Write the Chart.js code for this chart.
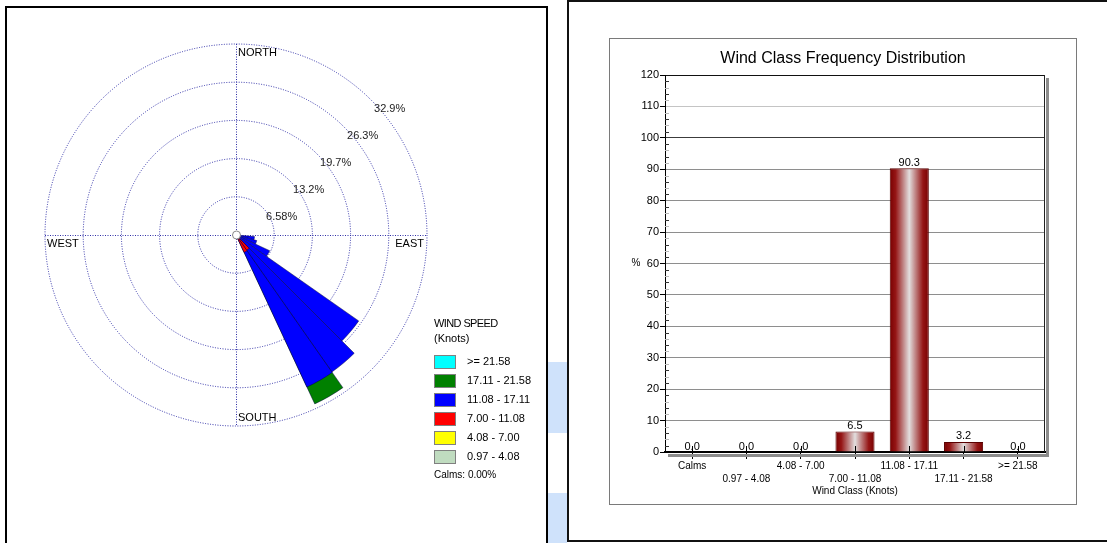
<!DOCTYPE html>
<html>
<head>
<meta charset="utf-8">
<title>Wind Rose and Wind Class Frequency Distribution</title>
<script src="https://cdn.jsdelivr.net/npm/chart.js@4/dist/chart.umd.min.js"></script>
<style>
  html, body { margin: 0; padding: 0; background: #fff; }
  body { width: 1107px; height: 543px; position: relative; overflow: hidden;
         font-family: Arial, "Liberation Sans", sans-serif; color: #000; }
  #leftPanel { position: absolute; left: 5px; top: 6px; width: 539px; height: 600px; border: 2px solid #000; }
  #roseBox { position: absolute; left: 7px; top: 8px; width: 539px; height: 535px; }
  .strip { position: absolute; left: 548px; width: 19px; background: #cfe2fb; }
  #rightPanel { position: absolute; left: 567px; top: 0; width: 600px; height: 538px;
                border: 2px solid #111; border-right: none; }
  #barFrame { position: absolute; left: 609px; top: 38px; width: 466px; height: 465px; border: 1px solid #7a7a7a; }
  #barBox { position: absolute; left: 610px; top: 39px; width: 466px; height: 465px; }
  #legend { position: absolute; left: 434px; top: 316px; font-size: 11px; }
  #legend .head { position: absolute; left: 0; white-space: nowrap; line-height: 14px; }
  #legend .sw { position: absolute; left: 0; width: 20px; height: 12px; border: 1px solid #808080; }
  #legend .lb { position: absolute; left: 33px; white-space: nowrap; line-height: 14px; }
  #legend .calms { position: absolute; left: 0; font-size: 10px; white-space: nowrap; line-height: 14px; }
</style>
</head>
<body>
<div id="leftPanel"></div>
<div id="roseBox"><canvas id="rose"></canvas></div>
<div id="legend"></div>
<div class="strip" style="top:362px;height:71px"></div>
<div class="strip" style="top:493px;height:50px"></div>
<div id="rightPanel"></div>
<div id="barFrame"></div>
<div id="barBox"><canvas id="bars"></canvas></div>

<script>
// ---- Wind rose data: 36 sectors of 10 degrees (sector centre bearings) ----
const directions = [0, 10, 20, 30, 40, 50, 60, 70, 80, 90, 100, 110, 120, 130, 140, 150, 160, 170,
                    180, 190, 200, 210, 220, 230, 240, 250, 260, 270, 280, 290, 300, 310, 320, 330, 340, 350];

// Speed classes (knots), lowest first
const speedClasses = ['0.97 - 4.08', '4.08 - 7.00', '7.00 - 11.08', '11.08 - 17.11', '17.11 - 21.58', '>= 21.58'];
const classColors = ['#c0dcc0', '#ffff00', '#ff0000', '#0000ff', '#008000', '#00ffff'];

// Frequency (%) per sector for each speed class
const freq_0_97_4_08 = [0,0,0,0,0,0,0,0,0,0, 0,0,0,0,0,0, 0,0,0,0,0,0,0,0,0,0,0,0,0,0,0,0,0,0,0,0];
const freq_4_08_7_00 = [0,0,0,0,0,0,0,0,0,0, 0,0,0,0,0,0, 0,0,0,0,0,0,0,0,0,0,0,0,0,0,0,0,0,0,0,0];
const freq_7_00_11_08 = [0,0,0,0,0,0,0,0,0,0, 0,0,0,0,3.2,3.3, 0,0,0,0,0,0,0,0,0,0,0,0,0,0,0,0,0,0,0,0];
const freq_11_08_17_11 = [0,0,0,0,0,0,0,0,0,0, 3.2,3.7,6.4,25.8,25.6,25.6, 0,0,0,0,0,0,0,0,0,0,0,0,0,0,0,0,0,0,0,0];
const freq_17_11_21_58 = [0,0,0,0,0,0,0,0,0,0, 0,0,0,0,0,3.2, 0,0,0,0,0,0,0,0,0,0,0,0,0,0,0,0,0,0,0,0];
const freq_21_58_up = [0,0,0,0,0,0,0,0,0,0, 0,0,0,0,0,0, 0,0,0,0,0,0,0,0,0,0,0,0,0,0,0,0,0,0,0,0];
const classFreq = [freq_0_97_4_08, freq_4_08_7_00, freq_7_00_11_08, freq_11_08_17_11, freq_17_11_21_58, freq_21_58_up];

// Rose rings and their labels
const ringValues = [6.58, 13.16, 19.74, 26.32, 32.9];
const ringLabels = ['6.58%', '13.2%', '19.7%', '26.3%', '32.9%'];
const compassLabels = ['NORTH', 'EAST', 'SOUTH', 'WEST'];
const calmsPercent = 0.00;

// ---- Wind class frequency distribution ----
const barClasses = ['Calms', '0.97 - 4.08', '4.08 - 7.00', '7.00 - 11.08', '11.08 - 17.11', '17.11 - 21.58', '>= 21.58'];
const barValues = [0.0, 0.0, 0.0, 6.5, 90.3, 3.2, 0.0];
const yTickStep = 10;
const yMax = 120;

const FONT = 'Arial, "Liberation Sans", sans-serif';
const GRID_BLUE = '#2e2ea6';

// ---------------- Legend for the rose (highest class on top) ----------------
(function buildLegend() {
  const lg = document.getElementById('legend');
  let html = '<div class="head" style="top:0;letter-spacing:-0.6px">WIND SPEED</div>' +
             '<div class="head" style="top:15px">(Knots)</div>';
  const order = speedClasses.map((_, i) => i).reverse();
  order.forEach((k, row) => {
    const top = 39 + row * 19;
    html += '<div class="sw" style="top:' + top + 'px;background:' + classColors[k] + '"></div>';
    html += '<div class="lb" style="top:' + (top - 1) + 'px">' + speedClasses[k].replace('>=', '&gt;=') + '</div>';
  });
  html += '<div class="calms" style="top:' + (39 + 6 * 19 - 1) + 'px">Calms: ' + calmsPercent.toFixed(2) + '%</div>';
  lg.innerHTML = html;
})();

// ---------------- Wind rose (stacked polar area) ----------------
// Each dataset holds the running total up to its class so the petals stack outward.
const cumulative = classFreq.map((_, k) =>
  directions.map((_, i) => {
    let s = 0;
    for (let j = 0; j <= k; j++) s += classFreq[j][i];
    return Math.round(s * 100) / 100;
  }));

const roseDecor = {
  id: 'roseDecor',
  beforeDatasetsDraw(chart) {
    const r = chart.scales.r, ctx = chart.ctx;
    const cx = r.xCenter, cy = r.yCenter, R = r.drawingArea;
    ctx.save();
    ctx.strokeStyle = GRID_BLUE;
    ctx.lineWidth = 1;
    ctx.setLineDash([1, 1.5]);
    ctx.beginPath();
    ctx.moveTo(cx - R, cy + 0.5); ctx.lineTo(cx + R, cy + 0.5);
    ctx.moveTo(cx + 0.5, cy - R); ctx.lineTo(cx + 0.5, cy + R);
    ctx.stroke();
    ctx.restore();
  },
  afterDatasetsDraw(chart) {
    const r = chart.scales.r, ctx = chart.ctx;
    const cx = r.xCenter, cy = r.yCenter, R = r.drawingArea;
    ctx.save();
    // calms circle
    ctx.beginPath();
    ctx.arc(cx + 0.5, cy, 4, 0, Math.PI * 2);
    ctx.fillStyle = '#fff';
    ctx.fill();
    ctx.strokeStyle = '#8a8a8a';
    ctx.lineWidth = 1;
    ctx.stroke();

    // compass labels
    ctx.fillStyle = '#000';
    ctx.font = '11px ' + FONT;
    ctx.textBaseline = 'middle';
    ctx.textAlign = 'left';
    ctx.fillText(compassLabels[0], cx + 2, cy - R + 9);
    ctx.fillText(compassLabels[2], cx + 2, cy + R - 8);
    ctx.fillText(compassLabels[3], cx - R + 2, cy + 9);
    ctx.textAlign = 'right';
    ctx.fillText(compassLabels[1], cx + R - 3, cy + 9);

    // ring labels along the north-east diagonal
    ctx.textAlign = 'left';
    ctx.fillStyle = '#222';
    ringValues.forEach((v, i) => {
      const d = r.getDistanceFromCenterForValue(v) * Math.SQRT1_2;
      ctx.fillText(ringLabels[i], cx + d + 3, cy - d + 9);
    });
    ctx.restore();
  }
};

new Chart(document.getElementById('rose'), {
  type: 'polarArea',
  data: {
    labels: directions.map(d => d + '°'),
    datasets: speedClasses.map((name, k) => ({
      label: name,
      data: cumulative[k],
      backgroundColor: c => (classFreq[k][c.dataIndex] > 0 ? classColors[k] : 'rgba(0,0,0,0)'),
      borderColor: 'rgba(0,0,60,0.8)',
      borderWidth: c => (classFreq[k][c.dataIndex] > 0 ? 0.6 : 0)
    }))
  },
  options: {
    responsive: true,
    maintainAspectRatio: false,
    animation: false,
    layout: { padding: { left: 38, top: 36, right: 119, bottom: 117 } },
    plugins: { legend: { display: false }, tooltip: { enabled: false }, title: { display: false } },
    scales: {
      r: {
        min: 0,
        max: ringValues[ringValues.length - 1],
        startAngle: -5,
        afterBuildTicks: s => { s.ticks = [0].concat(ringValues).map(v => ({ value: v })); },
        ticks: { display: false },
        grid: { circular: true, color: GRID_BLUE, lineWidth: 1 },
        border: { dash: [1, 1.5] },
        angleLines: { display: false },
        pointLabels: { display: false }
      }
    }
  },
  plugins: [roseDecor]
});

// ---------------- Wind class frequency bars ----------------
const barPct = 0.72;

const barDecor = {
  id: 'barDecor',
  beforeDatasetsDraw(chart) {
    const { ctx, chartArea: a, scales: { y } } = chart;
    ctx.save();
    // minor ticks inside the plot along the value axis
    for (let v = 2; v < yMax; v += 2) {
      if (v % yTickStep === 0) continue;
      const py = Math.round(y.getPixelForValue(v)) + 0.5;
      ctx.strokeStyle = (v / 2) % 2 ? '#333' : '#bbb';
      ctx.beginPath();
      ctx.moveTo(a.left, py); ctx.lineTo(a.left + 4, py);
      ctx.stroke();
    }
    // drop shadow right and below the plot
    ctx.fillStyle = '#8c8c8c';
    ctx.fillRect(a.right + 1, a.top + 3, 3, a.bottom - a.top + 2);
    ctx.fillRect(a.left + 3, a.bottom + 2, a.right - a.left + 1, 3);
    // right edge of the plot frame
    ctx.fillStyle = '#222';
    ctx.fillRect(a.right - 1, a.top, 1, a.bottom - a.top);
    ctx.restore();
  },
  afterDatasetsDraw(chart) {
    const { ctx, chartArea: a, scales: { x } } = chart;
    const meta = chart.getDatasetMeta(0);
    ctx.save();
    ctx.fillStyle = '#000';
    ctx.font = '11px ' + FONT;
    ctx.textAlign = 'center';
    ctx.textBaseline = 'middle';
    meta.data.forEach((bar, i) => {
      ctx.fillText(barValues[i].toFixed(1), bar.x, bar.y - 5.5);
    });
    // category tick marks rising above the axis
    ctx.strokeStyle = '#000';
    ctx.lineWidth = 1;
    x.ticks.forEach((_, i) => {
      const px = Math.round(x.getPixelForTick(i)) + 0.5;
      ctx.beginPath();
      ctx.moveTo(px, a.bottom - 6); ctx.lineTo(px, a.bottom);
      ctx.stroke();
    });
    // value axis caption
    ctx.font = '10px ' + FONT;
    ctx.fillText('%', 26, (a.top + a.bottom) / 2);
    ctx.restore();
  }
};

function barGradient(c) {
  const chart = c.chart;
  const xs = chart.scales && chart.scales.x;
  if (!xs || c.type !== 'data' || !xs.width) return '#8b0000';
  const cx = xs.getPixelForValue(c.dataIndex);
  const half = (xs.width / barClasses.length) * barPct / 2;
  const g = chart.ctx.createLinearGradient(cx - half, 0, cx + half, 0);
  g.addColorStop(0, '#780000');
  g.addColorStop(0.15, '#951515');
  g.addColorStop(0.5, '#e2dede');
  g.addColorStop(0.85, '#951515');
  g.addColorStop(1, '#780000');
  return g;
}

new Chart(document.getElementById('bars'), {
  type: 'bar',
  data: {
    labels: barClasses,
    datasets: [{
      label: 'Wind Class',
      data: barValues,
      backgroundColor: barGradient,
      borderColor: '#5a0000',
      borderWidth: 1,
      barPercentage: barPct,
      categoryPercentage: 1
    }]
  },
  options: {
    responsive: true,
    maintainAspectRatio: false,
    animation: false,
    layout: { padding: { left: 0, right: 0, top: 0, bottom: 6 } },
    plugins: {
      legend: { display: false },
      tooltip: { enabled: false },
      title: {
        display: true,
        text: 'Wind Class Frequency Distribution',
        color: '#000',
        font: { family: FONT, size: 16, weight: 'normal', lineHeight: 1.2 },
        padding: { top: 10.4, bottom: 6.4 }
      }
    },
    scales: {
      x: {
        afterFit: s => { s.height = 46; },
        grid: { offset: false, drawOnChartArea: false, tickLength: 7, color: '#000', tickColor: '#000' },
        border: { display: true, color: '#000', width: 2 },
        ticks: {
          color: '#000',
          font: { family: FONT, size: 10, lineHeight: 1.23 },
          padding: 1.5,
          maxRotation: 0,
          autoSkip: false,
          callback: function (value, index) {
            const l = this.getLabelForValue(value);
            return index % 2 ? ['', l] : l;
          }
        },
        title: {
          display: true,
          text: 'Wind Class (Knots)',
          color: '#000',
          font: { family: FONT, size: 10, lineHeight: 1.2 },
          padding: { top: 0, bottom: 0.7 }
        }
      },
      y: {
        min: 0,
        max: yMax,
        afterFit: s => { s.width = 55; },
        ticks: { stepSize: yTickStep, color: '#000', font: { family: FONT, size: 11 }, padding: 1 },
        grid: {
          tickLength: 5,
          tickColor: '#000',
          color: c => {
            const v = c.tick ? c.tick.value : -1;
            if (v === 0) return 'rgba(0,0,0,0)';
            if (v === yMax) return '#111';
            if (v === 110) return '#c4c4c4';
            if (v === 100) return '#3c3c3c';
            return '#8e8e8e';
          }
        },
        border: { color: '#000', width: 1 }
      },
      // empty margin on the right of the plot, keeps the title centred on the whole frame
      margin: {
        type: 'linear',
        position: 'right',
        display: true,
        afterFit: s => { s.width = 31; },
        grid: { display: false, drawTicks: false },
        border: { display: false },
        ticks: { display: false }
      }
    }
  },
  plugins: [barDecor]
});
</script>
</body>
</html>
